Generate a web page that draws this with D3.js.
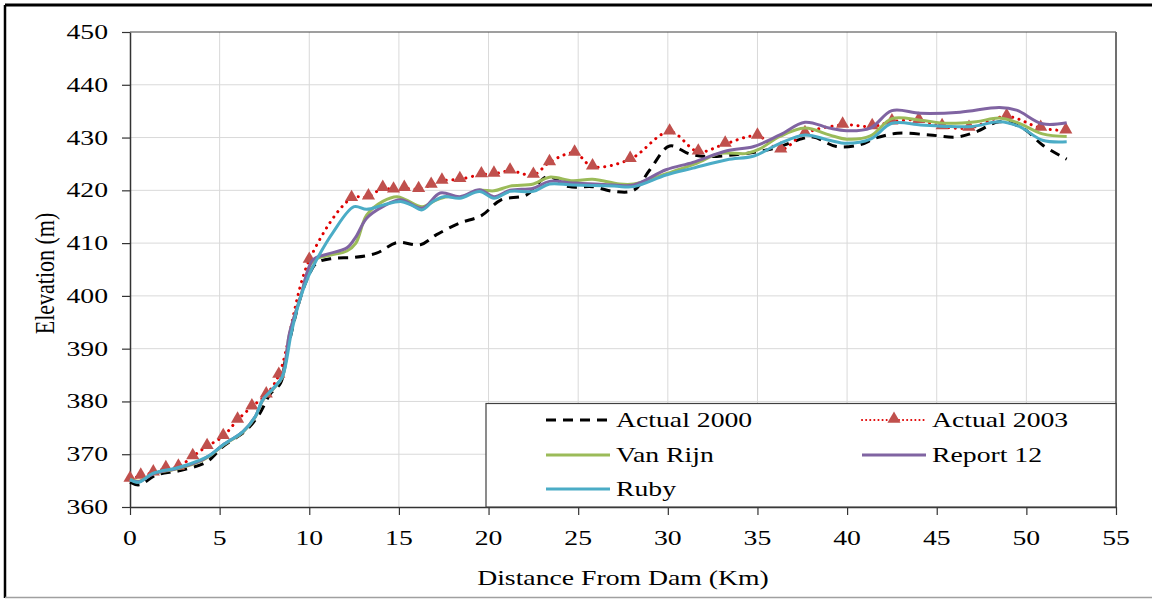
<!DOCTYPE html>
<html>
<head>
<meta charset="utf-8">
<script src="https://d3js.org/d3.v7.min.js"></script>
<style>
  body { margin: 0; background: #fff; }
  text { font-family: "Liberation Serif", "Times New Roman", serif; fill: #000; }
</style>
</head>
<body>
<script>
var width = 1152,
    height = 599;

// --- data (km, m) ---
var actual2000 = [
    [0, 364.7], [0.5, 364.2], [1.5, 366.1], [2.8, 366.9], [4.3, 368.6], [5.2, 371.5],
    [6.5, 374.6], [7.25, 377.8], [7.8, 381.3], [8.4, 383.5], [8.7, 388.5], [9.5, 399.6],
    [9.95, 403.7], [10.4, 406.2], [11.3, 407.1], [12.5, 407.3], [13.75, 408.1], [14.9, 410.1],
    [16.2, 409.7], [17.1, 411.6], [18.4, 413.8], [19.6, 415.2], [20.7, 418.2], [22.1, 419.1],
    [23.3, 422.6], [24.5, 420.7], [25.8, 420.7], [26.95, 419.8], [28.1, 420.0], [29.0, 423.9],
    [30.1, 428.4], [31.2, 426.9], [32.2, 426.4], [33.6, 426.7], [34.95, 427.3], [36.2, 428.2],
    [37.4, 429.7], [38.1, 430.1], [39.4, 428.3], [40.7, 428.6], [41.6, 429.9], [42.8, 430.8],
    [44.6, 430.5], [46.1, 430.1], [47.2, 431.1], [48.5, 433.0], [49.8, 431.8], [50.9, 428.6],
    [52.25, 425.9]
];

var actual2003 = [
    [0, 365.3], [0.6, 365.9], [1.3, 366.5], [2.0, 367.3], [2.7, 367.6], [3.5, 369.6],
    [4.3, 371.5], [5.2, 373.4], [6.0, 376.5], [6.8, 379.0], [7.6, 381.3], [8.3, 385.0],
    [10.0, 406.8], [12.36, 418.5], [13.3, 418.8], [14.1, 420.4], [14.7, 420.1], [15.3, 420.4],
    [16.1, 420.2], [16.8, 421.0], [17.4, 421.8], [18.4, 422.1], [19.6, 423.0], [20.3, 423.1],
    [21.2, 423.7], [22.5, 422.9], [23.4, 425.3], [24.8, 427.1], [25.8, 424.5], [27.9, 425.9],
    [30.1, 431.1], [31.7, 427.3], [33.2, 428.8], [35.0, 430.3], [36.3, 427.7], [37.65, 430.8],
    [39.75, 432.4], [41.4, 432.1], [42.5, 433.0], [44.0, 433.3], [45.3, 432.1], [46.8, 431.8],
    [48.9, 434.0], [50.8, 431.8], [52.2, 431.3]
];

var vanRijn = [
    [0, 365.3], [0.5, 364.9], [1.3, 366.3], [2.7, 367.3], [4.0, 368.8], [4.5, 369.8],
    [5.2, 371.7], [6.3, 374.2], [7.0, 377.1], [7.4, 380.2], [8.0, 382.4], [8.5, 384.6],
    [8.9, 392.8], [9.5, 399.6], [10.2, 406.6], [11.0, 407.6], [12.1, 408.5], [12.6, 410.0],
    [13.2, 415.3], [14.1, 417.9], [14.9, 418.8], [15.4, 418.2], [16.3, 416.9], [17.1, 418.2],
    [17.7, 418.8], [18.4, 418.7], [19.5, 420.0], [20.3, 419.9], [21.2, 420.8], [22.5, 421.2],
    [23.4, 422.5], [24.7, 421.8], [25.8, 422.1], [27.3, 421.2], [28.1, 421.2], [29.2, 422.3],
    [30.3, 423.6], [31.6, 425.1], [32.9, 427.0], [34.4, 427.0], [35.1, 427.8], [36.25, 430.2],
    [37.65, 431.8], [39.0, 430.5], [39.97, 429.7], [41.3, 430.3], [42.5, 433.6], [44.1, 433.3],
    [45.55, 432.7], [47.2, 433.0], [48.5, 433.7], [49.6, 432.7], [50.9, 430.7], [52.25, 430.2]
];

var report12 = [
    [0, 365.2], [0.5, 364.8], [1.3, 366.3], [2.7, 367.4], [4.0, 368.9], [4.5, 369.9],
    [5.2, 371.8], [6.3, 374.3], [7.0, 377.2], [7.4, 380.3], [8.0, 382.5], [8.5, 384.7],
    [8.9, 393.0], [9.5, 399.6], [10.2, 406.8], [11.0, 407.9], [12.1, 409.1], [12.6, 411.2],
    [13.2, 414.7], [14.1, 416.9], [15.1, 418.2], [16.3, 416.6], [17.3, 419.5], [18.4, 418.8],
    [19.5, 420.1], [20.3, 418.8], [21.2, 420.0], [22.5, 420.4], [23.4, 421.7], [24.7, 421.4],
    [27.0, 421.0], [28.1, 421.0], [29.9, 423.9], [31.4, 425.3], [33.3, 427.5], [34.8, 428.3],
    [36.25, 430.5], [37.65, 432.9], [39.0, 431.8], [39.97, 431.3], [41.3, 431.8], [42.5, 435.1],
    [44.1, 434.6], [46.3, 434.8], [48.5, 435.7], [49.45, 435.2], [50.9, 432.6], [52.25, 432.8]
];

var ruby = [
    [0, 365.2], [0.5, 364.7], [1.3, 366.4], [2.6, 367.4], [3.9, 368.9], [4.5, 369.9],
    [5.2, 371.8], [6.3, 374.3], [7.0, 377.2], [7.4, 380.3], [8.0, 382.5], [8.5, 384.7],
    [9.0, 393.0], [9.5, 399.6], [9.95, 403.7], [10.4, 406.8], [11.3, 411.9], [12.5, 416.9],
    [13.2, 416.4], [14.1, 417.2], [15.1, 417.9], [15.7, 417.2], [16.3, 416.3], [16.9, 417.9],
    [17.5, 418.8], [18.4, 418.5], [19.5, 419.8], [20.3, 418.5], [21.2, 419.8], [22.5, 419.8],
    [23.4, 421.2], [24.7, 421.0], [27.0, 420.8], [28.1, 420.7], [29.9, 422.9], [31.4, 424.2],
    [33.3, 425.8], [34.8, 426.5], [36.25, 428.9], [37.65, 430.5], [39.0, 429.5], [39.97, 428.9],
    [41.3, 429.7], [42.5, 432.7], [44.1, 432.4], [45.55, 432.1], [47.0, 432.1], [48.5, 433.0],
    [49.6, 432.1], [50.9, 429.5], [52.25, 429.2]
];

var seriesNames = ["Actual 2000", "Actual 2003", "Van Rijn", "Report 12", "Ruby"];
var xTicks = d3.range(0, 56, 5);
var yTicks = d3.range(360, 451, 10);

// --- layout ---
var mLeft = 130, mRight = 1116, mTop = 32, mBottom = 507;
var fontSize = 22, stretch = 1.26; // the reference text is stretched horizontally

var x = d3.scaleLinear().domain([0, 55]).range([mLeft, mRight]);
var y = d3.scaleLinear().domain([360, 450]).range([mBottom, mTop]);

var svg = d3.select("body").append("svg")
    .attr("width", width)
    .attr("height", height);

// place a horizontally stretched label
function label(px, py, str, anchor, rot) {
    var g = svg.append("g")
        .attr("transform", "translate(" + px + "," + py + ") scale(" + stretch + ",1)" + (rot ? " rotate(" + rot + ")" : ""));
    return g.append("text")
        .attr("text-anchor", anchor || "start")
        .style("font-size", fontSize + "px")
        .text(str);
}

// outer frame
svg.append("line").attr("x1", 5).attr("x2", 5).attr("y1", 5).attr("y2", 598)
    .attr("stroke", "#000").attr("stroke-width", 2.5);
svg.append("line").attr("x1", 5).attr("x2", width).attr("y1", 5).attr("y2", 5)
    .attr("stroke", "#000").attr("stroke-width", 3);
svg.append("line").attr("x1", 5).attr("x2", width).attr("y1", 597.5).attr("y2", 597.5)
    .attr("stroke", "#a0a0a0").attr("stroke-width", 1.5);

// gridlines
var grid = svg.append("g");
grid.selectAll(".gx").data(xTicks.slice(1, -1)).enter().append("line")
    .attr("x1", d => x(d)).attr("x2", d => x(d))
    .attr("y1", mTop).attr("y2", mBottom)
    .attr("stroke", "#d9d9d9").attr("stroke-width", 1);
grid.selectAll(".gy").data(yTicks.slice(1, -1)).enter().append("line")
    .attr("x1", mLeft).attr("x2", mRight)
    .attr("y1", d => y(d)).attr("y2", d => y(d))
    .attr("stroke", "#d9d9d9").attr("stroke-width", 1);

// plot border (top / right)
svg.append("line").attr("x1", mLeft).attr("x2", mRight).attr("y1", mTop).attr("y2", mTop)
    .attr("stroke", "#404040").attr("stroke-width", 1.2);
svg.append("line").attr("x1", mRight).attr("x2", mRight).attr("y1", mTop).attr("y2", mBottom)
    .attr("stroke", "#707070").attr("stroke-width", 2);

// axes (lines and ticks from d3, labels drawn stretched)
var xAxis = svg.append("g")
    .attr("transform", "translate(0," + mBottom + ")")
    .call(d3.axisBottom(x).tickValues(xTicks).tickSize(8).tickFormat("").tickSizeOuter(0));
var yAxis = svg.append("g")
    .attr("transform", "translate(" + mLeft + ",0)")
    .call(d3.axisLeft(y).tickValues(yTicks).tickSize(8).tickFormat("").tickSizeOuter(0));

[xAxis, yAxis].forEach(function (ax) {
    ax.select(".domain").attr("stroke", "#333").attr("stroke-width", 1.5);
    ax.selectAll(".tick line").attr("stroke", "#333").attr("stroke-width", 1.2);
});

xTicks.forEach(function (t) { label(x(t), 545, String(t), "middle"); });
yTicks.forEach(function (t) { label(108, y(t) + 7, String(t), "end"); });

// axis titles
label((mLeft + mRight) / 2 + 0, 585, "Distance From Dam (Km)", "middle");
label(54, (mTop + mBottom) / 2 + 4, "Elevation (m)", "middle", -90);

// lines
var line = d3.line()
    .x(d => x(d[0]))
    .y(d => y(d[1]))
    .curve(d3.curveCatmullRom.alpha(0.5));

var plot = svg.append("g");

plot.append("path").datum(actual2000)
    .attr("d", line).attr("fill", "none")
    .attr("stroke", "#000").attr("stroke-width", 3)
    .attr("stroke-dasharray", "10,7");

plot.append("path").datum(actual2003)
    .attr("d", line).attr("fill", "none")
    .attr("stroke", "#e00000").attr("stroke-width", 3)
    .attr("stroke-linecap", "round")
    .attr("stroke-dasharray", "0.1,6.5");

var tri = d3.symbol().type(d3.symbolTriangle).size(75);
plot.selectAll(".tri").data(actual2003).enter().append("path")
    .attr("d", tri)
    .attr("transform", d => "translate(" + x(d[0]) + "," + (y(d[1]) - 1) + ")")
    .attr("fill", "#c0504d");

var modelColors = ["#9bbb59", "#8064a2", "#4bacc6"];
[vanRijn, report12, ruby].forEach(function (s, i) {
    plot.append("path").datum(s)
        .attr("d", line).attr("fill", "none")
        .attr("stroke", modelColors[i]).attr("stroke-width", 3)
        .attr("stroke-linejoin", "round");
});

// legend
var lg = svg.append("g");
lg.append("rect")
    .attr("x", 486).attr("y", 403.5)
    .attr("width", mRight - 486).attr("height", mBottom - 403.5)
    .attr("fill", "#fff").attr("stroke", "#404040").attr("stroke-width", 1.2);

var legendPos = [[546, 420], [862, 420], [546, 455], [862, 455], [546, 489]];
legendPos.forEach(function (p, i) {
    var g = lg.append("g").attr("transform", "translate(" + p[0] + "," + p[1] + ")");
    var sample = g.append("line").attr("x1", 0).attr("x2", 64).attr("y1", 0).attr("y2", 0)
        .attr("stroke-width", 3);
    if (i === 0) {
        sample.attr("stroke", "#000").attr("stroke-dasharray", "10,7");
    } else if (i === 1) {
        sample.attr("stroke", "#e00000").attr("stroke-width", 2)
            .attr("stroke-linecap", "round").attr("stroke-dasharray", "0.1,4");
        g.append("path").attr("d", tri).attr("transform", "translate(32,-1)").attr("fill", "#c0504d");
    } else {
        sample.attr("stroke", modelColors[i - 2]);
    }
    g.append("g").attr("transform", "translate(70,7) scale(" + stretch + ",1)")
        .append("text")
        .style("font-size", fontSize + "px")
        .text(seriesNames[i]);
});
</script>
</body>
</html>
